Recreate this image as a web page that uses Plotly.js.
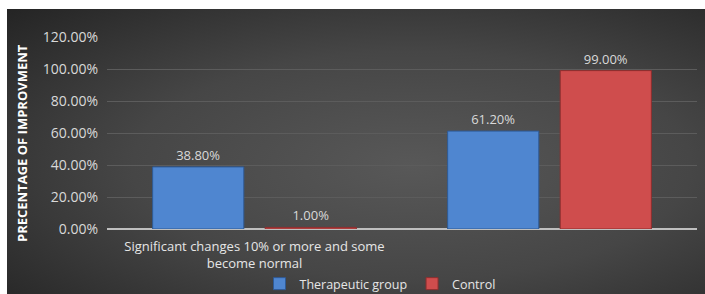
<!DOCTYPE html>
<html>
<head>
<meta charset="utf-8">
<script src="https://cdn.plot.ly/plotly-3.0.1.min.js"></script>
<style>html,body{margin:0;padding:0;background:#fff;}#chart{width:705px;height:294px;}</style>
</head>
<body>
<div id="chart"></div>
<script>
var categories = ["Significant changes 10% or more and some<br>become normal", ""];
var categoryKeys = ["c1", "c2"];
var therapeutic = [0.388, 0.612];
var control = [0.01, 0.99];
var seriesNames = ["Therapeutic group", "Control"];
var yTickVals = [0, 0.2, 0.4, 0.6, 0.8, 1.0, 1.2];
var yTickText = ["0.00%", "20.00%", "40.00%", "60.00%", "80.00%", "100.00%", "120.00%"];

var svg = '<svg xmlns="http://www.w3.org/2000/svg" width="698" height="285">' +
  '<defs><radialGradient id="g" cx="0.58" cy="0.55" r="0.8" fx="0.58" fy="0.55">' +
  '<stop offset="0" stop-color="#585858"/><stop offset="0.5" stop-color="#464646"/><stop offset="1" stop-color="#242424"/>' +
  '</radialGradient></defs><rect width="698" height="285" fill="url(#g)"/></svg>';
var bgUri = 'data:image/svg+xml;base64,' + btoa(svg);

var FONT = "'Open Sans', sans-serif";

var traces = [
  {
    type: "bar", name: seriesNames[0], x: categoryKeys, y: therapeutic,
    marker: {color: "#4f86d0", line: {color: "#2e5a96", width: 1}},
    texttemplate: "%{y:.2%}", textposition: "outside", cliponaxis: false,
    textfont: {color: "#d9d9d9", size: 13, family: FONT},
    hoverinfo: "none"
  },
  {
    type: "bar", name: seriesNames[1], x: categoryKeys, y: control,
    marker: {color: "#cf4d4d", line: {color: "#8e2e2e", width: 1}},
    texttemplate: "%{y:.2%}", textposition: "outside", cliponaxis: false,
    textfont: {color: "#d9d9d9", size: 13, family: FONT},
    hoverinfo: "none"
  }
];

var layout = {
  width: 705, height: 294,
  margin: {l: 107, r: 8, t: 37, b: 65, autoexpand: false},
  paper_bgcolor: "#ffffff",
  plot_bgcolor: "rgba(0,0,0,0)",
  font: {family: FONT, color: "#d9d9d9", size: 12},
  barmode: "group",
  bargap: 0.237,
  bargroupgap: 0.19,
  showlegend: true,
  legend: {
    orientation: "h", x: (380-107)/590, xanchor: "center", y: -(284-229)/192, yanchor: "middle",
    font: {size: 12.5, color: "#e6e6e6", family: FONT},
    bgcolor: "rgba(0,0,0,0)", itemwidth: 30, traceorder: "normal"
  },
  xaxis: {
    type: "category",
    tickvals: categoryKeys, ticktext: categories,
    showgrid: false, zeroline: false, showline: false,
    ticks: "", ticklabelstandoff: 8,
    tickfont: {size: 13, color: "#e6e6e6", family: FONT},
    automargin: false, fixedrange: true
  },
  yaxis: {
    range: [0, 1.2],
    tickvals: yTickVals, ticktext: yTickText,
    showgrid: true, gridcolor: "#5c5c5c", gridwidth: 1,
    zeroline: true, zerolinecolor: "#bfbfbf", zerolinewidth: 2,
    showline: false, ticks: "", ticklabelstandoff: 8,
    tickfont: {size: 14, color: "#d9d9d9", family: FONT},
    automargin: false, fixedrange: true
  },
  images: [{
    source: bgUri, xref: "paper", yref: "paper",
    x: -100/590, y: 1 + 28/192, sizex: 698/590, sizey: 285/192,
    xanchor: "left", yanchor: "top", sizing: "stretch", layer: "below"
  }],
  annotations: [{
    text: "<b>PRECENTAGE OF IMPROVMENT</b>", textangle: -90,
    xref: "paper", yref: "paper", x: -85/590, y: (229-143)/192,
    xanchor: "center", yanchor: "middle", showarrow: false,
    font: {size: 13, color: "#ffffff", family: FONT}
  }]
};

Plotly.newPlot("chart", traces, layout, {displayModeBar: false, staticPlot: true});
</script>
</body>
</html>
